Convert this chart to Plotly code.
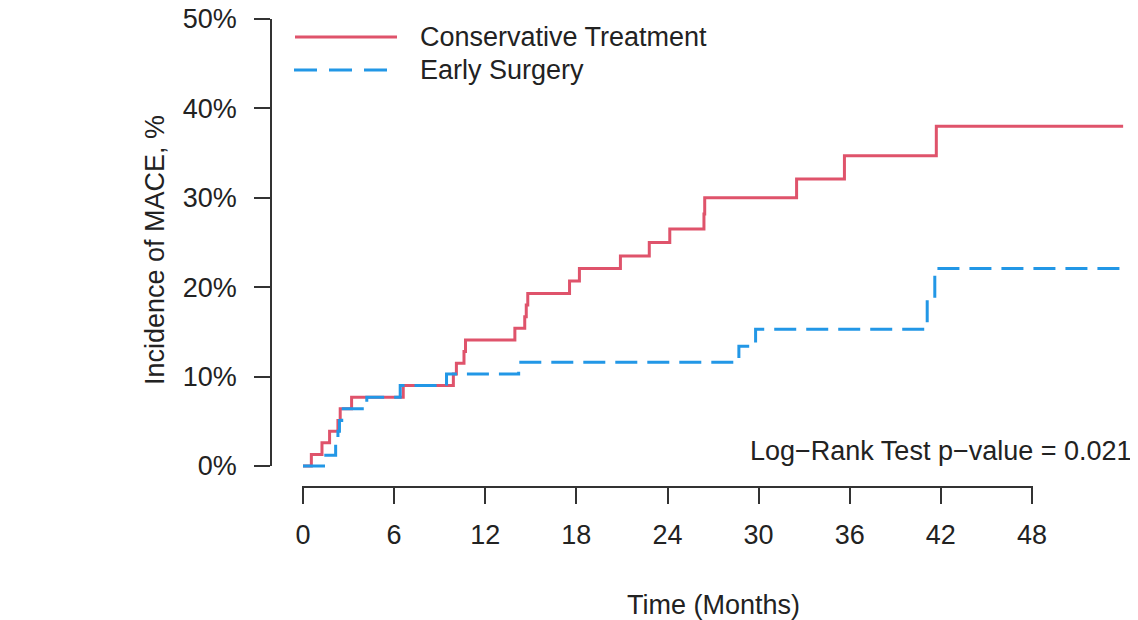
import plotly.graph_objects as go

# ---- data (months, cumulative incidence %) ----
cons_time = [0, 0.55, 1.25, 1.75, 2.3, 2.45, 3.2, 6.6, 9.9, 10.1, 10.6, 10.7, 13.95,
             14.6, 14.7, 14.8, 17.55, 18.2, 20.9, 22.8, 24.15, 26.4, 26.45, 32.5, 35.65,
             41.7, 54.0]
cons_inc = [0, 1.3, 2.6, 3.9, 5.1, 6.4, 7.7, 9.0, 10.3, 11.5, 12.8, 14.1, 15.4,
            16.7, 18.0, 19.3, 20.7, 22.1, 23.5, 25.0, 26.5, 28.2, 30.0, 32.1, 34.7,
            38.0, 38.0]

surg_time = [0, 1.5, 2.15, 2.3, 2.4, 2.55, 4.2, 6.4, 9.45, 14.2, 28.7, 29.8, 41.1, 41.6, 54.0]
surg_inc = [0, 1.2, 2.6, 3.9, 5.1, 6.4, 7.7, 9.0, 10.3, 11.6, 13.4, 15.3, 18.7, 22.1, 22.1]

x_ticks = [0, 6, 12, 18, 24, 30, 36, 42, 48]
y_ticks = [0, 10, 20, 30, 40, 50]
y_tick_labels = ["0%", "10%", "20%", "30%", "40%", "50%"]

series_names = ["Conservative Treatment", "Early Surgery"]
colors = ["#DF536B", "#2297E6"]
pvalue_text = "Log\u2212Rank Test p\u2212value = 0.021"

# ---- layout geometry (pixels, in window coordinates) ----
W, H = 1138, 620
OFF = 8                                       # default page body margin
PL, PR, PT, PB = 262, 1138, 12, 490           # plot area
X0PX, X48PX = 303, 1032                       # pixel of 0 and 48 months
Y0PX, Y50PX = 466, 19                         # pixel of 0% and 50%
XAXIS_Y = 487
YAXIS_X = 271
EPS = 0.05                                    # tiny pad so end ticks are kept

pxm = (X48PX - X0PX) / 48.0
pxp = (Y0PX - Y50PX) / 50.0
xlo = -(X0PX - PL) / pxm
xhi = (PR - X0PX) / pxm
ylo = -(PB - Y0PX) / pxp
yhi = 50 + (Y50PX - PT) / pxp

def fx(px):
    return (px - PL) / (PR - PL)

def fy(py):
    return (PB - py) / (PB - PT)

FONT = "Liberation Sans, Arial, Helvetica, sans-serif"
FS = 27
TXT = "#222222"
AX = "#333333"

fig = go.Figure()
fig.add_trace(go.Scatter(x=cons_time, y=cons_inc, mode="lines", line_shape="hv",
                         name=series_names[0], hoverinfo="x+y",
                         line=dict(color=colors[0], width=3)))
fig.add_trace(go.Scatter(x=surg_time, y=surg_inc, mode="lines", line_shape="hv",
                         name=series_names[1], hoverinfo="x+y",
                         line=dict(color=colors[1], width=3, dash="22px,10px")))
# helper (invisible) trace so that the R-style axes are drawn
fig.add_trace(go.Scatter(x=x_ticks, y=[y_ticks[0]] * len(x_ticks), xaxis="x2", yaxis="y2",
                         mode="none", hoverinfo="skip", showlegend=False))

fig.update_layout(
    width=W - OFF, height=H - OFF,
    margin=dict(l=PL - OFF, r=W - PR, t=PT - OFF, b=H - PB, autoexpand=False),
    paper_bgcolor="white", plot_bgcolor="rgba(0,0,0,0)",
    showlegend=False,
    font=dict(family=FONT, size=FS, color=TXT),
    xaxis=dict(range=[xlo, xhi], domain=[0, 1], visible=False, fixedrange=True),
    yaxis=dict(range=[ylo, yhi], domain=[0, 1], visible=False, fixedrange=True),
    xaxis2=dict(anchor="free", position=fy(XAXIS_Y),
                domain=[fx(X0PX - EPS * pxm), fx(X48PX + EPS * pxm)],
                range=[-EPS, 48 + EPS],
                tickvals=x_ticks, ticktext=[str(v) for v in x_ticks],
                showline=True, linecolor=AX, linewidth=1.5,
                ticks="outside", ticklen=16, tickwidth=1.5, tickcolor=AX,
                showgrid=False, zeroline=False, ticklabelstandoff=8,
                ticklabeloverflow="allow", fixedrange=True,
                tickfont=dict(family=FONT, size=FS, color=TXT)),
    yaxis2=dict(anchor="free", position=fx(YAXIS_X),
                domain=[fy(Y0PX + EPS * pxp), fy(Y50PX - EPS * pxp)],
                range=[-EPS, 50 + EPS],
                tickvals=y_ticks, ticktext=y_tick_labels,
                showline=True, linecolor=AX, linewidth=1.5,
                ticks="outside", ticklen=16, tickwidth=1.5, tickcolor=AX,
                showgrid=False, zeroline=False, ticklabelstandoff=12,
                ticklabeloverflow="allow", fixedrange=True,
                tickfont=dict(family=FONT, size=FS, color=TXT)),
)

# manual legend (R style)
leg_y = [37, 70]
shapes = [
    dict(type="line", xref="paper", yref="paper", x0=fx(295), x1=fx(397),
         y0=fy(leg_y[0]), y1=fy(leg_y[0]), line=dict(color=colors[0], width=3)),
    dict(type="line", xref="paper", yref="paper", x0=fx(294), x1=fx(394),
         y0=fy(leg_y[1]), y1=fy(leg_y[1]), line=dict(color=colors[1], width=3, dash="23px,12px")),
]
annotations = [
    dict(text=series_names[0], xref="paper", yref="paper", x=fx(418), y=fy(leg_y[0]),
         xanchor="left", yanchor="middle", showarrow=False),
    dict(text=series_names[1], xref="paper", yref="paper", x=fx(418), y=fy(leg_y[1]),
         xanchor="left", yanchor="middle", showarrow=False),
    dict(text=pvalue_text, xref="paper", yref="paper", x=fx(748), y=fy(451),
         xanchor="left", yanchor="middle", showarrow=False),
    dict(text="Time (Months)", xref="paper", yref="paper", x=fx(713), y=fy(605),
         xanchor="center", yanchor="middle", showarrow=False),
    dict(text="Incidence of MACE, %", xref="paper", yref="paper", x=fx(155), y=fy(250),
         xanchor="center", yanchor="middle", textangle=-90, showarrow=False),
]
fig.update_layout(shapes=shapes, annotations=annotations)

fig.write_html("out.html")
